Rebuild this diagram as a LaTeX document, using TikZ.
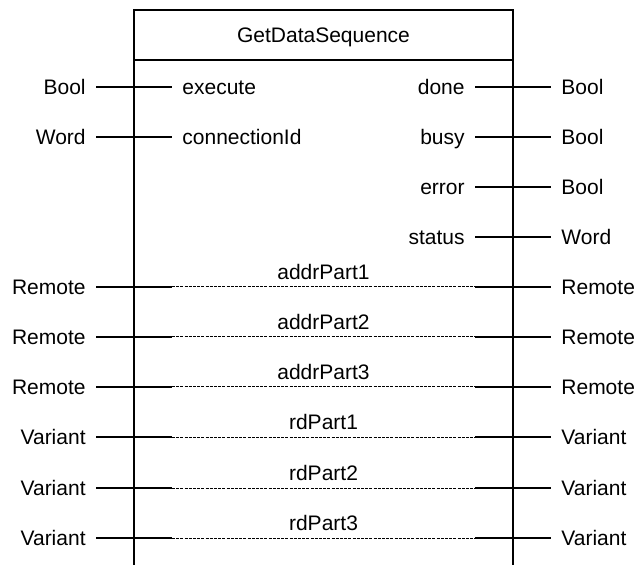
\documentclass[tikz,border=0pt]{standalone}
\usepackage{fontspec}
\setmainfont{Liberation Sans}
\usetikzlibrary{positioning}
\tikzset{
  lbl/.style={inner sep=5pt,text height=7.5pt,text depth=0pt,font=\fontsize{10.5}{12}\selectfont},
  pin/.style={line width=1pt},
  pindash/.style={line width=.5pt,dash pattern=on 1.5pt off .6pt},
  partlbl/.style={lbl,above,inner sep=3.5pt}
}
\begin{document}
\begin{tikzpicture}[x=.5pt,y=-.5pt]
\useasboundingbox(0,0)rectangle(635,565);
\draw[line width=1pt](134,565)--(134,10)--(513,10)--(513,565);
\draw[line width=1pt](134,60)--(513,60);
\node[lbl](title)at(323.5,35){GetDataSequence};
% inputs
\node[lbl,anchor=east](tExec)at(96,87){Bool};
\node[lbl,anchor=west](execute)at(172,87){execute};
\draw[pin](tExec)--(execute);
\node[lbl,anchor=east](tConn)at(96,137){Word};
\node[lbl,anchor=west](connId)at(172,137){connectionId};
\draw[pin](tConn)--(connId);
% outputs
\node[lbl,anchor=east](done)at(475,87){done};
\node[lbl,anchor=west](tDone)at(551,87){Bool};
\draw[pin](done)--(tDone);
\node[lbl,anchor=east](busy)at(475,137){busy};
\node[lbl,anchor=west](tBusy)at(551,137){Bool};
\draw[pin](busy)--(tBusy);
\node[lbl,anchor=east](error)at(475,187){error};
\node[lbl,anchor=west](tError)at(551,187){Bool};
\draw[pin](error)--(tError);
\node[lbl,anchor=east](status)at(475,237){status};
\node[lbl,anchor=west](tStatus)at(551,237){Word};
\draw[pin](status)--(tStatus);
% in-out parameters
\node[lbl,anchor=east](tAddrIn1)at(96,287){Remote};
\node[lbl,anchor=west](tAddrOut1)at(551,287){Remote};
\coordinate(a1)at(172,287);
\coordinate(b1)at(475,287);
\draw[pin](tAddrIn1)--(a1);
\draw[pindash](a1)--node[partlbl](addr1){addrPart1}(b1);
\draw[pin](b1)--(tAddrOut1);
\node[lbl,anchor=east](tAddrIn2)at(96,337){Remote};
\node[lbl,anchor=west](tAddrOut2)at(551,337){Remote};
\coordinate(a2)at(172,337);
\coordinate(b2)at(475,337);
\draw[pin](tAddrIn2)--(a2);
\draw[pindash](a2)--node[partlbl](addr2){addrPart2}(b2);
\draw[pin](b2)--(tAddrOut2);
\node[lbl,anchor=east](tAddrIn3)at(96,387){Remote};
\node[lbl,anchor=west](tAddrOut3)at(551,387){Remote};
\coordinate(a3)at(172,387);
\coordinate(b3)at(475,387);
\draw[pin](tAddrIn3)--(a3);
\draw[pindash](a3)--node[partlbl](addr3){addrPart3}(b3);
\draw[pin](b3)--(tAddrOut3);
\node[lbl,anchor=east](tRdIn1)at(96,437){Variant};
\node[lbl,anchor=west](tRdOut1)at(551,437){Variant};
\coordinate(c1)at(172,437);
\coordinate(d1)at(475,437);
\draw[pin](tRdIn1)--(c1);
\draw[pindash](c1)--node[partlbl](rd1){rdPart1}(d1);
\draw[pin](d1)--(tRdOut1);
\node[lbl,anchor=east](tRdIn2)at(96,488){Variant};
\node[lbl,anchor=west](tRdOut2)at(551,488){Variant};
\coordinate(c2)at(172,488);
\coordinate(d2)at(475,488);
\draw[pin](tRdIn2)--(c2);
\draw[pindash](c2)--node[partlbl](rd2){rdPart2}(d2);
\draw[pin](d2)--(tRdOut2);
\node[lbl,anchor=east](tRdIn3)at(96,538){Variant};
\node[lbl,anchor=west](tRdOut3)at(551,538){Variant};
\coordinate(c3)at(172,538);
\coordinate(d3)at(475,538);
\draw[pin](tRdIn3)--(c3);
\draw[pindash](c3)--node[partlbl](rd3){rdPart3}(d3);
\draw[pin](d3)--(tRdOut3);
\end{tikzpicture}
\end{document}
